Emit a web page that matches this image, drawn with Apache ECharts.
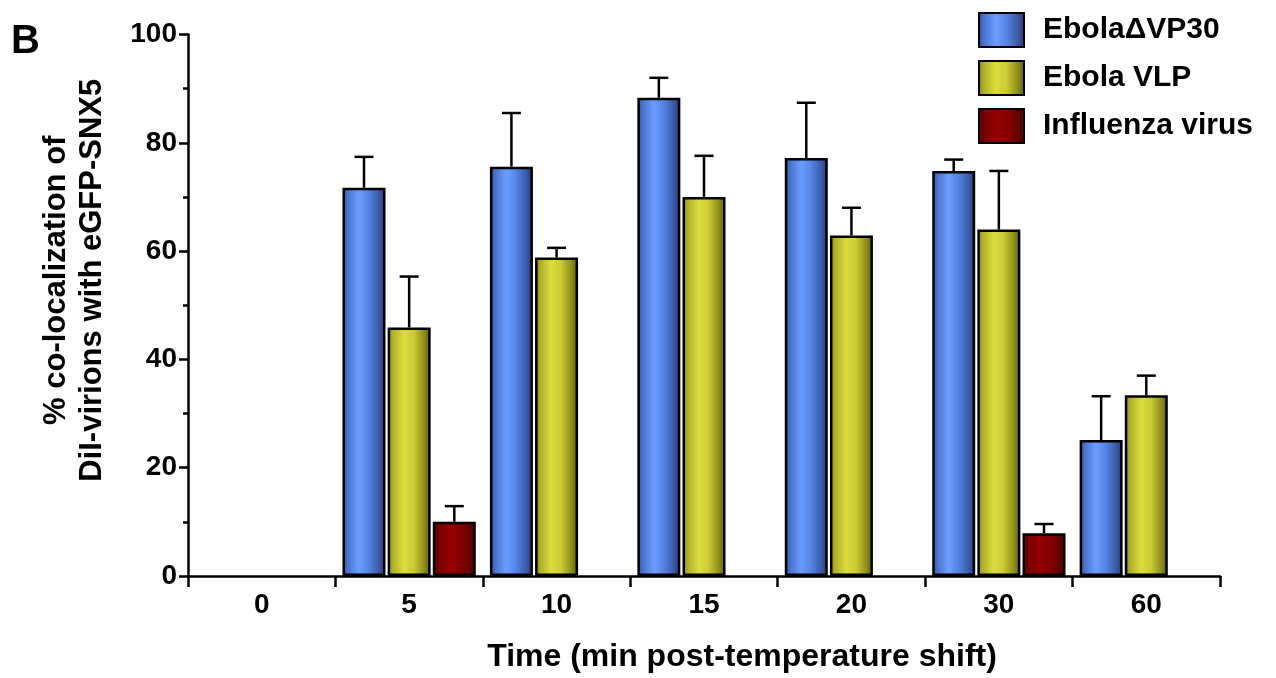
<!DOCTYPE html>
<html><head><meta charset="utf-8">
<script src="https://cdn.jsdelivr.net/npm/echarts@6/dist/echarts.min.js"></script>
<style>html,body{margin:0;padding:0;background:#fff}#c{width:1276px;height:678px}</style>
</head><body><div id="c"></div>
<script>
const categories = ['0','5','10','15','20','30','60'];
const yTicks = [0,20,40,60,80,100];
const seriesNames = ['Ebola\u0394VP30','Ebola VLP','Influenza virus'];
const ebolaDVP30 = [null, 71.7, 75.6, 88.3, 77.2, 74.8, 25.1];
const ebolaDVP30Err = [null, 5.7, 9.9, 3.7, 10.2, 2.1, 8.1];
const ebolaVLP = [null, 45.9, 58.8, 70.0, 62.9, 64.0, 33.4];
const ebolaVLPErr = [null, 9.4, 1.8, 7.6, 5.1, 10.8, 3.6];
const influenza = [null, 10.0, null, null, null, 7.9, null];
const influenzaErr = [null, 2.9, null, null, null, 1.7, null];

const means = [ebolaDVP30, ebolaVLP, influenza];
const errs = [ebolaDVP30Err, ebolaVLPErr, influenzaErr];

function grad(stops){
  return new echarts.graphic.LinearGradient(0,0,1,0, stops.map(c=>({offset:c[0], color:c[1]})));
}
const fills = [
  grad([[0,'#2e4c94'],[0.12,'#4a72cc'],[0.38,'#6b9dff'],[0.6,'#5585e6'],[0.85,'#3a5aa8'],[1,'#263a6a']]),
  grad([[0,'#7e7e18'],[0.12,'#b0b02a'],[0.38,'#dcdc3c'],[0.6,'#cccc34'],[0.85,'#8e8e1c'],[1,'#5a5a0c']]),
  grad([[0,'#4e0000'],[0.15,'#7a0000'],[0.4,'#950000'],[0.65,'#850000'],[0.88,'#600000'],[1,'#420000']])
];
const BW = 43, GAP = 0.05;
const font = '"Liberation Sans", Arial, Helvetica, sans-serif';

const series = [];
seriesNames.forEach((n,s)=>{
  series.push({
    name:n, type:'bar', barWidth:BW, barGap:(GAP*100)+'%',
    data: means[s].map(v=> v==null ? '-' : v),
    itemStyle:{color:fills[s], borderColor:'#000', borderWidth:2.5},
    z:2
  });
});
seriesNames.forEach((n,s)=>{
  const d = [];
  means[s].forEach((v,i)=>{ if(v!=null && errs[s][i]!=null) d.push([i, v, errs[s][i]]); });
  series.push({
    type:'custom', name:n+' err', z:3, silent:true,
    data:d, encode:{x:0,y:1},
    renderItem:(params, api)=>{
      const i = api.value(0), m = api.value(1), e = api.value(2);
      const off = (s-1)*BW*(1+GAP);
      const p0 = api.coord([i, m]);
      const p1 = api.coord([i, m+e]);
      const x = p0[0] + off;
      const st = {stroke:'#000', lineWidth:2.5};
      return {type:'group', children:[
        {type:'line', shape:{x1:x, y1:p0[1], x2:x, y2:p1[1]}, style:st},
        {type:'line', shape:{x1:x-9.5, y1:p1[1], x2:x+9.5, y2:p1[1]}, style:st}
      ]};
    }
  });
});

const chart = echarts.init(document.getElementById('c'), null, {renderer:'canvas'});
chart.setOption({
  animation:false,
  backgroundColor:'#fff',
  title:{text:'B', left:6, top:17, textStyle:{fontFamily:font, fontWeight:'bold', fontSize:40, color:'#000'}},
  legend:{
    orient:'vertical', left:973, top:7, itemWidth:45, itemHeight:34, itemGap:12,
    data:seriesNames, icon:'rect',
    itemStyle:{borderColor:'#000', borderWidth:2},
    textStyle:{fontFamily:font, fontWeight:'bold', fontSize:30, color:'#000', padding:[0,0,0,14]}
  },
  grid:{left:188, right:56, top:34.5, bottom:101},
  xAxis:{
    type:'category', data:categories, boundaryGap:true,
    axisLine:{lineStyle:{color:'#000', width:2.5}},
    axisTick:{show:true, interval:0, length:11, lineStyle:{color:'#000', width:2.5}},
    axisLabel:{interval:0, margin:15, fontFamily:font, fontWeight:'bold', fontSize:28, color:'#000'},
    name:'Time (min post-temperature shift)', nameLocation:'middle', nameGap:65,
    nameTextStyle:{fontFamily:font, fontWeight:'bold', fontSize:32, color:'#000', padding:[0,0,0,76]}
  },
  yAxis:{
    type:'value', min:0, max:100, interval:20,
    axisLine:{show:true, lineStyle:{color:'#000', width:2.5}},
    axisTick:{show:true, length:9, lineStyle:{color:'#000', width:2.5}},
    minorTick:{show:true, splitNumber:2, length:5, lineStyle:{color:'#000', width:2.5}},
    splitLine:{show:false},
    axisLabel:{margin:11, fontFamily:font, fontWeight:'bold', fontSize:28, color:'#000',
      formatter:v=> yTicks.includes(v) ? String(v) : ''},
    name:'% co-localization of\nDiI-virions with eGFP-SNX5', nameLocation:'middle', nameRotate:90, nameGap:78,
    nameTextStyle:{fontFamily:font, fontWeight:'bold', fontSize:31, color:'#000', lineHeight:36, padding:[0,0,0,50]}
  },
  series:series
});
</script></body></html>
